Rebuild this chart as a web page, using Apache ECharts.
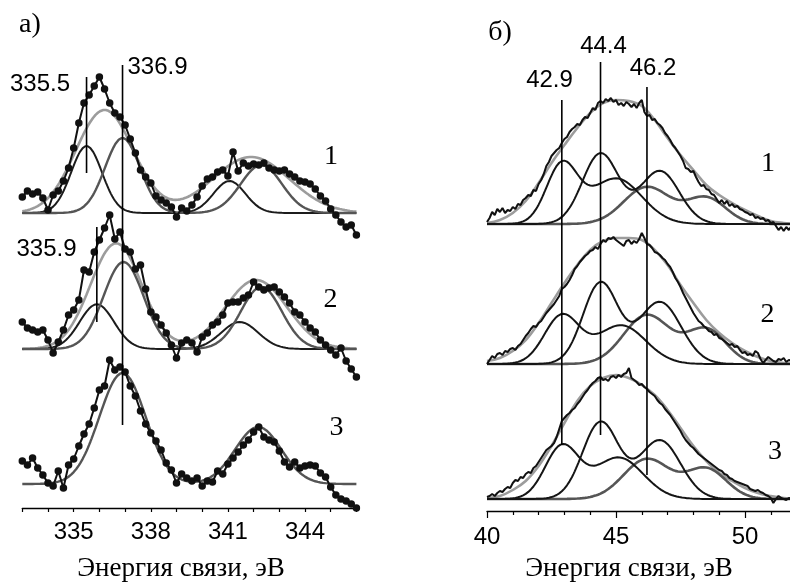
<!DOCTYPE html>
<html><head><meta charset="utf-8">
<script src="https://cdn.jsdelivr.net/npm/echarts@6/dist/echarts.min.js"></script>
<style>html,body{margin:0;padding:0;background:#fff}#c{width:790px;height:584px}</style>
</head><body><div id="c"></div>
<script>
// ---------- DATA: panel а (Pd 3d region), measured points every 0.2 eV from 333.0 ----------
const aStart = 333.0, aStep = 0.2;
const specA1 = [16,22,19,21,15,3,18,22,32,45,65,90,110,118,127,136,124,110,100,96,88,74,60,43,36,30,17,13,10,6,-4,5,2,8,16,27,34,36,41,43,37,61,42,50,47,49,48,50,45,43,42,43,39,36,32,31,29,24,17,12,4,-2,-9,-14,-12,-22];
const specA2 = [27,21,19,17,19,9,-4,7,19,34,39,49,79,77,97,109,121,134,110,117,100,97,80,84,60,37,32,24,16,4,-9,6,9,6,-3,12,16,24,27,34,46,47,47,51,54,67,62,59,61,62,57,52,46,37,34,27,21,17,9,4,-1,-6,1,-12,-20,-28];
const specA3 = [23,19,26,16,9,1,-2,13,-4,19,25,38,50,60,76,94,98,124,114,117,112,98,88,73,60,51,43,34,21,14,1,10,6,3,6,-2,3,2,13,10,20,26,32,39,44,52,57,47,44,42,33,22,17,22,16,18,19,18,11,7,-3,-11,-15,-17,-20,-24];
// fitted components: [center eV, height, sigma eV]
const fitA1Black = [[335.5,67,0.6],[341.06,32,0.62]];
const fitA1Dark  = [[336.9,75,0.68],[342.3,48,0.8]];
const fitA1Env   = [[336.2,103,1.12],[341.9,56,1.5]];
const fitA2Black = [[335.9,44.7,0.67],[341.46,27,0.72]];
const fitA2Dark  = [[336.94,87,0.78],[342.3,62,0.8]];
const fitA2Env   = [[336.65,105.7,1.0],[342.1,69,1.2]];
const fitA3Dark  = [[336.9,111,0.9],[342.18,57,0.9]];
const peakLinesA = [335.5, 336.9, 335.9];
const ticksA = [335, 338, 341, 344];

// ---------- DATA: panel б, measured line every 0.1 eV from 40.0 ----------
const bStart = 40.0, bStep = 0.1;
const specB1 = [2,6,12,9,15,12,16,11,14,13,17,15,20,19,24,26,29,28,34,33,40,44,50,58,62,68,71,74,76,81,85,87,92,95,97,100,99,104,107,106,111,116,114,121,123,121,125,123,126,122,124,119,121,118,122,120,117,120,116,121,124,112,108,109,104,105,101,99,96,91,88,84,79,76,72,68,63,56,55,52,53,47,42,38,39,35,34,30,29,25,21,24,20,23,18,20,17,18,15,14,12,11,9,10,6,7,5,6,3,4,1,2,-2,-6,-3,-7,-3,-6,-2];
const specB2 = [0,4,8,6,10,11,9,13,12,15,16,14,18,20,24,28,31,35,38,37,41,43,47,51,54,57,60,64,68,75,77,80,84,89,95,98,102,105,108,110,113,114,117,115,120,124,122,126,125,127,124,122,120,118,123,124,120,123,121,125,131,126,120,119,116,112,111,109,106,104,100,97,92,86,82,77,71,66,61,56,51,47,43,41,38,36,33,32,29,30,26,25,23,21,19,20,17,18,14,11,12,9,10,8,13,11,5,1,4,7,5,3,2,5,4,6,2,4,3];
const specB3 = [2,3,5,3,6,8,7,10,12,11,16,19,18,22,21,25,27,26,31,33,37,41,45,49,51,53,56,62,70,78,81,84,86,89,91,95,98,102,106,109,113,116,118,121,122,119,120,118,122,123,121,124,122,125,126,131,121,119,117,114,115,112,110,107,105,103,99,96,94,90,87,84,80,76,72,68,63,59,56,53,51,48,45,43,41,39,37,35,33,31,29,28,25,24,21,20,18,17,16,15,14,13,10,9,8,9,7,6,4,3,1,-4,0,3,1,0,-1,1,0];
// envelopes read every 0.5 eV from 40.0
const envStepB = 0.5;
const envB1 = [1,4,11,23,41,61,79,96,111,121,124,123,118,104,86,69,54,39,29,21,14,8,3,1,0];
const envB2 = [3,6,13,24,41,61,81,99,114,123,126,126,124,114,99,79,61,44,31,21,13,7,3,1,0];
const envB3 = [1,3,9,18,33,53,76,98,113,121,124,121,114,104,89,71,53,38,26,18,11,6,3,1,0];
const fitB1A = [[42.9,58,0.6],[45.0,45.6,1.0]];
const fitB1B = [[44.4,70.5,0.7],[46.7,53,0.75]];
const fitB1C = [[46.2,37,0.9],[48.5,26,0.76]];
const fitB2A = [[42.9,48,0.68],[45.2,38.7,0.95]];
const fitB2B = [[44.4,81,0.68],[46.7,62,0.82]];
const fitB2C = [[46.2,49,0.9],[48.5,34.5,0.76]];
const fitB3A = [[42.9,52,0.65],[45.1,41.5,0.95]];
const fitB3B = [[44.4,76.7,0.7],[46.7,58.7,0.8]];
const fitB3C = [[46.2,40,0.9],[48.5,30,0.78]];
const peakLinesB = [42.9, 44.4, 46.2];
const ticksB = [40, 45, 50];
const specNames = ['1', '2', '3'];
const axisTitle = 'Энергия связи, эВ';
const panelNames = ['а)', 'б)'];

// ---------- LAYOUT (not data) ----------
const offA = [295, 159, 24];          // vertical stacking offsets, panel а
const offB = [287, 147, 12];          // panel б
const vlineA = [[335, 431], [83, 443], [186, 281]];
const vlineB = [[66, 411], [76, 449], [36, 424]];
const BLACK = '#111', DARK = '#555', LIGHT = '#9c9c9c';
const SANS = 'Liberation Sans', SERIF = 'Liberation Serif';

function pts(arr, start, step, off) {
  return arr.map((v, i) => [+(start + i * step).toFixed(3), v + off]);
}
function fitCurve(peaks, lo, hi, off) {
  const out = [];
  const n = Math.round((hi - lo) / 0.05);
  for (let i = 0; i <= n; i++) {
    const e = lo + i * 0.05;
    let s = 0;
    peaks.forEach(([c, h, w]) => { s += h * Math.exp(-(e - c) * (e - c) / (2 * w * w)); });
    out.push([+e.toFixed(3), s + off]);
  }
  return out;
}
function line(idx, data, color, width, z, extra) {
  return Object.assign({
    type: 'line', xAxisIndex: idx, yAxisIndex: idx, data: data,
    showSymbol: false, symbol: 'none', smooth: false, z: z, silent: true, animation: false,
    lineStyle: { color: color, width: width }
  }, extra || {});
}

const series = [];
// panel а
const envA = [fitA1Env, fitA2Env, null];
const blackA = [fitA1Black, fitA2Black, null];
const darkA = [fitA1Dark, fitA2Dark, fitA3Dark];
const specA = [specA1, specA2, specA3];
for (let s = 0; s < 3; s++) {
  if (envA[s]) series.push(line(0, fitCurve(envA[s], 333, 346, offA[s]), LIGHT, 2.6, 2));
  if (blackA[s]) series.push(line(0, fitCurve(blackA[s], 333, 346, offA[s]), '#1c1c1c', 2, 3));
  series.push(line(0, fitCurve(darkA[s], 333, 346, offA[s]), DARK, 2.4, 3));
  series.push(line(0, pts(specA[s], aStart, aStep, offA[s]), BLACK, 2, 4, {
    showSymbol: true, symbol: 'circle', symbolSize: 7.5, itemStyle: { color: BLACK }
  }));
}
peakLinesA.forEach((e, i) => {
  series.push(line(0, [[e, vlineA[i][0]], [e, vlineA[i][1]]], '#000', 1.6, 6));
});
// panel б
const envB = [envB1, envB2, envB3];
const fitsB = [[fitB1A, fitB1B, fitB1C], [fitB2A, fitB2B, fitB2C], [fitB3A, fitB3B, fitB3C]];
const specB = [specB1, specB2, specB3];
for (let s = 0; s < 3; s++) {
  series.push(line(1, pts(envB[s], bStart, envStepB, offB[s]), LIGHT, 2.6, 2, { smooth: 0.4 }));
  series.push(line(1, fitCurve(fitsB[s][2], 40, 52, offB[s]), DARK, 2.6, 3));
  series.push(line(1, fitCurve(fitsB[s][0], 40, 52, offB[s]), '#151515', 2, 3));
  series.push(line(1, fitCurve(fitsB[s][1], 40, 52, offB[s]), '#151515', 2, 3));
  series.push(line(1, pts(specB[s], bStart, bStep, offB[s]), BLACK, 2, 4));
}
peakLinesB.forEach((e, i) => {
  series.push(line(1, [[e, vlineB[i][0]], [e, vlineB[i][1]]], '#000', 1.6, 6));
});

function xAx(idx, min, max, interval, ticks, extra) {
  return Object.assign({
    gridIndex: idx, type: 'value', min: min, max: max, interval: interval,
    splitLine: { show: false },
    axisLine: { lineStyle: { color: '#000', width: 1.3 } },
    axisTick: { length: 4, lineStyle: { color: '#000', width: 1.2 } },
    axisLabel: {
      color: '#000', fontFamily: SANS, fontSize: 24, margin: 12,
      formatter: v => ticks.some(t => Math.abs(t - v) < 1e-6) ? String(Math.round(v)) : ''
    }
  }, extra || {});
}

function txt(x, y, text, family, size) {
  return { type: 'text', x: x, y: y, silent: true, z: 10,
    style: { text: text, fontFamily: family, fontSize: size, fill: '#000', align: 'center', verticalAlign: 'middle' } };
}
const labPosA = [[40, 84], [157.5, 67], [46.5, 249]];
const labPosB = [[549.5, 80], [603.5, 46], [653, 68]];
const numPosA = [[331, 157], [330.5, 300], [336.5, 428]];
const numPosB = [[768, 164], [767.5, 315], [775, 452]];
const graphic = [];
peakLinesA.forEach((e, i) => graphic.push(txt(labPosA[i][0], labPosA[i][1], e.toFixed(1), SANS, 24)));
peakLinesB.forEach((e, i) => graphic.push(txt(labPosB[i][0], labPosB[i][1], e.toFixed(1), SANS, 24)));
specNames.forEach((n, i) => {
  graphic.push(txt(numPosA[i][0], numPosA[i][1], n, SERIF, 28));
  graphic.push(txt(numPosB[i][0], numPosB[i][1], n, SERIF, 28));
});
graphic.push(txt(30, 25, panelNames[0], SERIF, 28));
graphic.push(txt(500, 33, panelNames[1], SERIF, 28));
graphic.push(txt(181, 569, axisTitle, SERIF, 27));
graphic.push(txt(629, 569, axisTitle, SERIF, 27));

const chart = echarts.init(document.getElementById('c'), null, { renderer: 'canvas' });
chart.setOption({
  animation: false,
  backgroundColor: '#fff',
  grid: [
    { left: 22.3, width: 334.1, top: 8, height: 500, containLabel: false, outerBoundsMode: 'none' },
    { left: 487, width: 387, top: 11, height: 500, containLabel: false, outerBoundsMode: 'none' }
  ],
  xAxis: [
    xAx(0, 333, 346, 1, ticksA),
    xAx(1, 40, 55, 5, ticksB, {
      axisTick: { length: 7, lineStyle: { color: '#000', width: 1.2 } },
      minorTick: { show: true, splitNumber: 5, length: 4, lineStyle: { color: '#000', width: 1.2 } },
      axisLabel: { color: '#000', fontFamily: SANS, fontSize: 24, margin: 14,
        formatter: v => ticksB.some(t => Math.abs(t - v) < 1e-6) ? String(Math.round(v)) : '' }
    })
  ],
  yAxis: [
    { gridIndex: 0, type: 'value', min: 0, max: 500, show: false },
    { gridIndex: 1, type: 'value', min: 0, max: 500, show: false }
  ],
  graphic: graphic,
  series: series
});
</script></body></html>
